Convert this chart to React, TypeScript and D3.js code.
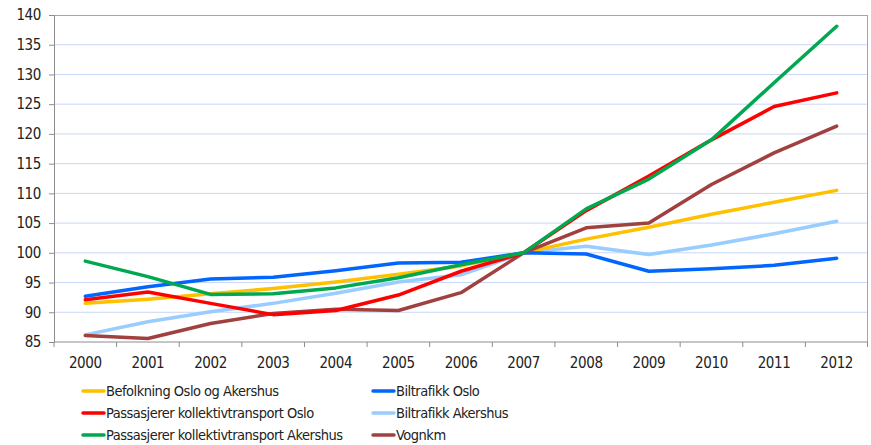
import React, { useEffect, useRef } from "react";
import * as d3 from "d3";

const years = ["2000","2001","2002","2003","2004","2005","2006","2007","2008","2009","2010","2011","2012"];
const yTicks = [85, 90, 95, 100, 105, 110, 115, 120, 125, 130, 135, 140];

const befolkning = [91.5, 92.2, 93.1, 94.0, 95.1, 96.4, 97.8, 100, 102.3, 104.3, 106.5, 108.5, 110.5];
const biltrafikkOslo = [92.7, 94.3, 95.6, 95.9, 97.0, 98.3, 98.4, 100, 99.8, 96.9, 97.3, 97.9, 99.1];
const kollOslo = [92.1, 93.4, 91.5, 89.6, 90.3, 92.9, 96.9, 100, 107.1, 112.9, 119.0, 124.6, 126.9];
const biltrafikkAkershus = [86.2, 88.4, 90.1, 91.5, 93.2, 95.1, 96.3, 100, 101.1, 99.7, 101.3, 103.2, 105.3];
const kollAkershus = [98.6, 96.0, 93.0, 93.1, 94.1, 95.8, 98.0, 100, 107.4, 112.4, 119.0, 128.6, 138.1];
const vognkm = [86.1, 85.6, 88.1, 89.8, 90.5, 90.3, 93.3, 100, 104.2, 105.0, 111.5, 116.8, 121.3];

const series = [
  { name: "Befolkning Oslo og Akershus", values: befolkning, color: "#ffc000" },
  { name: "Biltrafikk Oslo", values: biltrafikkOslo, color: "#0066ff" },
  { name: "Passasjerer kollektivtransport Oslo", values: kollOslo, color: "#ff0000" },
  { name: "Biltrafikk Akershus", values: biltrafikkAkershus, color: "#99ccff" },
  { name: "Passasjerer kollektivtransport Akershus", values: kollAkershus, color: "#00a84f" },
  { name: "Vognkm", values: vognkm, color: "#a0413f" },
];

// draw order (back to front)
const drawOrder = [3, 0, 1, 5, 2, 4];

const App = () => {
  const svgRef = useRef(null);
  const width = 871;
  const height = 445;
  const margin = { top: 15, right: 3, bottom: 103, left: 54 };

  useEffect(() => {
    const innerWidth = width - margin.left - margin.right;
    const innerHeight = height - margin.top - margin.bottom;
    const font = "'DejaVu Sans Condensed', sans-serif";

    const svg = d3.select(svgRef.current);
    svg.selectAll("*").remove();

    const x = d3.scaleBand().domain(years).range([0, innerWidth]);
    const y = d3.scaleLinear().domain([85, 140]).range([innerHeight, 0]);

    const g = svg.append("g").attr("transform", `translate(${margin.left},${margin.top})`);

    // gridlines
    g.append("g")
      .selectAll("line")
      .data(yTicks.filter((t) => t !== 85 && t !== 140))
      .enter()
      .append("line")
      .attr("x1", 0)
      .attr("x2", innerWidth)
      .attr("y1", (d) => y(d))
      .attr("y2", (d) => y(d))
      .attr("stroke", "#c9d6f6")
      .attr("stroke-width", 1);

    // frame top/right
    g.append("line").attr("x1", 0).attr("x2", innerWidth).attr("y1", 0.5).attr("y2", 0.5)
      .attr("stroke", "#a6a6a6");
    g.append("line").attr("x1", innerWidth - 0.5).attr("x2", innerWidth - 0.5).attr("y1", 0).attr("y2", innerHeight)
      .attr("stroke", "#a6a6a6");

    // y axis
    const yAxis = d3.axisLeft(y).tickValues(yTicks).tickSize(5).tickPadding(8);
    const yAxisG = g.append("g").call(yAxis);
    yAxisG.selectAll("path,line").attr("stroke", "#8c8c8c");
    yAxisG.selectAll("text").attr("font-family", font).attr("font-size", 15)
      .attr("letter-spacing", -0.4).attr("fill", "#222");

    // x axis with ticks between categories
    const xAxisG = g.append("g").attr("transform", `translate(0,${innerHeight})`);
    xAxisG.append("line").attr("x1", 0).attr("x2", innerWidth).attr("stroke", "#8c8c8c");
    xAxisG.selectAll(".tk")
      .data(years)
      .enter()
      .append("line")
      .attr("x1", (d) => x(d))
      .attr("x2", (d) => x(d))
      .attr("y1", 0)
      .attr("y2", 5)
      .attr("stroke", "#8c8c8c");
    xAxisG.append("line").attr("x1", innerWidth - 0.5).attr("x2", innerWidth - 0.5).attr("y1", 0).attr("y2", 5)
      .attr("stroke", "#8c8c8c");
    xAxisG.selectAll("text")
      .data(years)
      .enter()
      .append("text")
      .attr("x", (d) => x(d) + x.bandwidth() / 2)
      .attr("y", 26)
      .attr("text-anchor", "middle")
      .attr("font-family", font)
      .attr("font-size", 15)
      .attr("letter-spacing", -0.4)
      .attr("fill", "#222")
      .text((d) => d);

    // lines
    const line = d3.line<number>()
      .x((d, i) => x(years[i]) + x.bandwidth() / 2)
      .y((d) => y(d));

    drawOrder.forEach((idx) => {
      const s = series[idx];
      g.append("path")
        .datum(s.values)
        .attr("d", line)
        .attr("fill", "none")
        .attr("stroke", s.color)
        .attr("stroke-width", 3.5)
        .attr("stroke-linejoin", "round")
        .attr("stroke-linecap", "round");
    });

    // legend
    const legend = svg.append("g").attr("transform", "translate(83,391)");
    series.forEach((s, i) => {
      const col = i % 2;
      const row = Math.floor(i / 2);
      const lg = legend.append("g").attr("transform", `translate(${col * 290},${row * 22})`);
      lg.append("line")
        .attr("x1", 0).attr("x2", 21).attr("y1", 0).attr("y2", 0)
        .attr("stroke", s.color).attr("stroke-width", 3.5).attr("stroke-linecap", "round");
      lg.append("text")
        .attr("x", 23).attr("y", 0).attr("dy", "0.35em")
        .attr("font-family", font).attr("font-size", 14.5)
        .attr("letter-spacing", -0.5).attr("fill", "#222")
        .text(s.name);
    });
  }, []);

  return (
    <svg
      ref={svgRef}
      width={width}
      height={height}
      style={{ position: "absolute", left: 0, top: 0, background: "#fff" }}
    ></svg>
  );
};

export default App;
